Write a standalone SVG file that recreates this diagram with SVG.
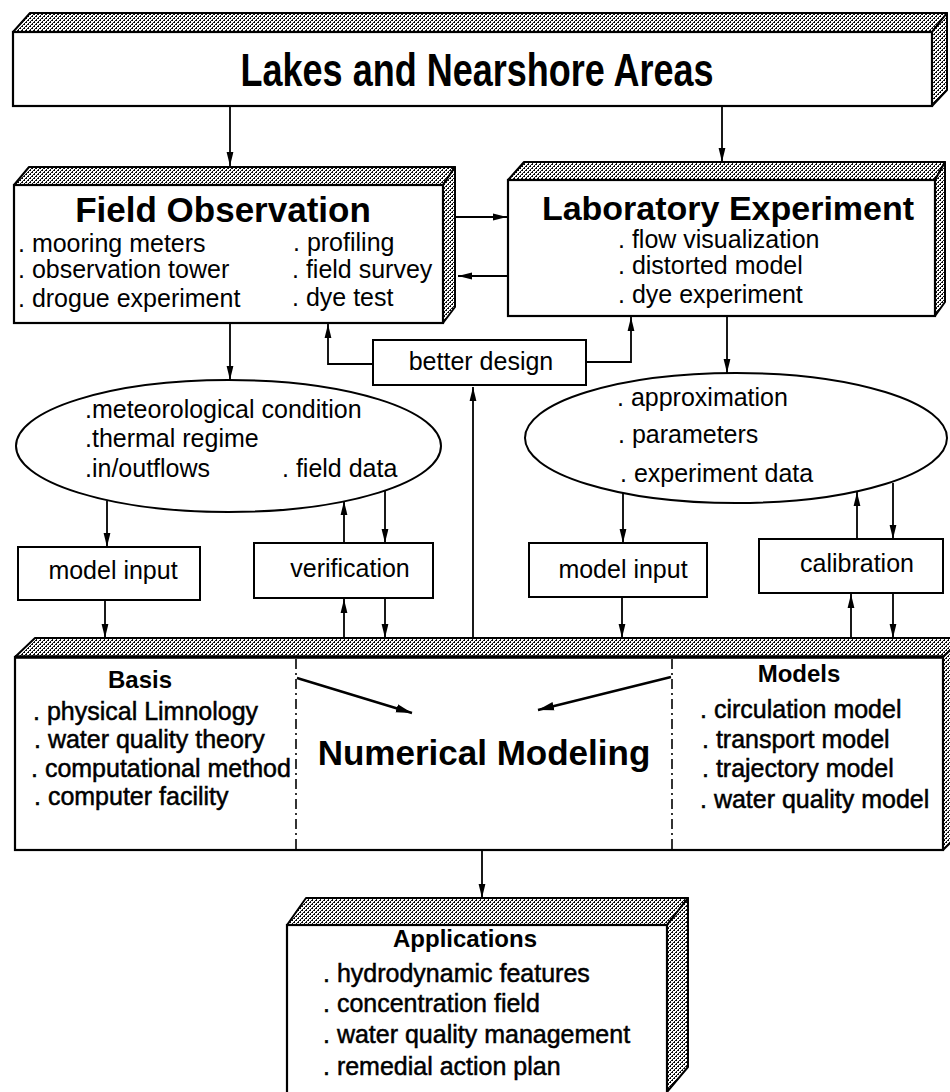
<svg xmlns="http://www.w3.org/2000/svg" width="950" height="1092" viewBox="0 0 950 1092">
<defs>
<pattern id="hatch" width="4" height="4" patternUnits="userSpaceOnUse">
<rect width="4" height="4" fill="#fff"/>
<path d="M0,4 L4,0 M-1,1 L1,-1 M3,5 L5,3" stroke="#000" stroke-width="0.9"/>
<rect x="0" y="0" width="1" height="1" fill="#000"/>
<rect x="2" y="2" width="1" height="1" fill="#000"/>
</pattern>
<marker id="ah" markerWidth="15" markerHeight="8" refX="14" refY="4" orient="auto" markerUnits="userSpaceOnUse">
<path d="M0,0.6 L14,4 L0,7.4 z" fill="#000"/>
</marker>
<marker id="ahb" markerWidth="17" markerHeight="10" refX="16" refY="5" orient="auto" markerUnits="userSpaceOnUse">
<path d="M0,0.8 L16,5 L0,9.2 z" fill="#000"/>
</marker>
</defs>
<style>
text{font-family:"Liberation Sans",Arial,sans-serif;fill:#000}
.face{fill:url(#hatch);stroke:#000;stroke-width:2;stroke-linejoin:round}
.front{fill:#fff;stroke:#000;stroke-width:2.2}
.box{fill:#fff;stroke:#000;stroke-width:2}
.ell{fill:#fff;stroke:#000;stroke-width:2}
.title{font-weight:bold;text-anchor:middle}
.item{font-size:25px}
.heavy{font-size:25px;stroke:#000;stroke-width:0.5}
.head{font-weight:bold;font-size:24px;text-anchor:middle}
.mid{text-anchor:middle;font-size:25px}
.ln{fill:none;stroke:#000;stroke-width:1.8;marker-end:url(#ah)}
.dd{stroke:#000;stroke-width:1.6;stroke-dasharray:10 4 2 4;fill:none}
</style>

<g id="lakes">
<polygon class="face" points="13,32 30,13 947,13 932,32"/>
<polygon class="face" points="932,32 947,13 947,90 932,106"/>
<rect class="front" x="13" y="32" width="919" height="74"/>
<text class="title" font-size="36" transform="translate(477,86) scale(1,1.3)">Lakes and Nearshore Areas</text>
</g>

<g id="field-observation">
<polygon class="face" points="14,185 29,167 455,167 443,185"/>
<polygon class="face" points="443,185 455,167 455,307 443,323"/>
<rect class="front" x="14" y="185" width="429" height="138"/>
<text class="title" x="223" y="222" font-size="35">Field Observation</text>
<text class="item" x="18" y="252" font-size="24.5">. mooring meters</text>
<text class="item" x="18" y="278" font-size="24.5">. observation tower</text>
<text class="item" x="18" y="307" font-size="24.5">. drogue experiment</text>
<text class="item" x="293" y="251" font-size="24.5">. profiling</text>
<text class="item" x="292" y="278" font-size="24.5">. field survey</text>
<text class="item" x="292" y="306" font-size="24.5">. dye test</text>
</g>

<g id="laboratory-experiment">
<polygon class="face" points="508,180 524,162 945,162 935,180"/>
<polygon class="face" points="935,180 945,162 945,302 935,316"/>
<rect class="front" x="508" y="180" width="427" height="136"/>
<text class="title" x="728" y="220" font-size="34">Laboratory Experiment</text>
<text class="item" x="618" y="248">. flow visualization</text>
<text class="item" x="618" y="274">. distorted model</text>
<text class="item" x="618" y="303">. dye experiment</text>
</g>

<g id="better-design">
<rect class="box" x="373" y="340" width="213" height="45"/>
<text class="mid" x="481" y="370">better design</text>
</g>

<g id="field-data">
<ellipse class="ell" cx="228.5" cy="446" rx="212.5" ry="66"/>
<text class="item" x="85" y="418">.meteorological condition</text>
<text class="item" x="85" y="447">.thermal regime</text>
<text class="item" x="85" y="477">.in/outflows</text>
<text class="item" x="282" y="477">. field data</text>
</g>

<g id="experiment-data">
<ellipse class="ell" cx="736" cy="438" rx="211" ry="65"/>
<text class="item" x="617" y="406">. approximation</text>
<text class="item" x="618" y="443">. parameters</text>
<text class="item" x="620" y="482">. experiment data</text>
</g>

<g id="model-input-left">
<rect class="box" x="18" y="547" width="182" height="53"/>
<text class="mid" x="113" y="579">model input</text>
</g>

<g id="verification">
<rect class="box" x="254" y="543" width="179" height="55"/>
<text class="mid" x="350" y="577">verification</text>
</g>

<g id="model-input-right">
<rect class="box" x="529" y="543" width="178" height="54"/>
<text class="mid" x="623" y="578">model input</text>
</g>

<g id="calibration">
<rect class="box" x="759" y="539" width="184" height="54"/>
<text class="mid" x="857" y="572">calibration</text>
</g>

<g id="numerical-modeling">
<polygon class="face" points="15,657 35,638 963,638 943,657"/>
<polygon class="face" points="943,657 963,638 963,830 943,850"/>
<rect class="front" x="15" y="657" width="928" height="193"/>
<line x1="15" y1="657" x2="943" y2="657" stroke="#000" stroke-width="3.5"/>
<line class="dd" x1="296" y1="659" x2="296" y2="849"/>
<line class="dd" x1="672" y1="659" x2="672" y2="849"/>
<text class="head" x="140" y="688">Basis</text>
<text class="heavy" x="33" y="720">. physical Limnology</text>
<text class="heavy" x="34" y="748">. water quality theory</text>
<text class="heavy" x="31" y="777">. computational method</text>
<text class="heavy" x="34" y="805">. computer facility</text>
<text class="title" x="484" y="765" font-size="35">Numerical Modeling</text>
<text class="head" x="799" y="682" font-size="25">Models</text>
<text class="heavy" x="700" y="718">. circulation model</text>
<text class="heavy" x="702" y="748">. transport model</text>
<text class="heavy" x="702" y="777">. trajectory model</text>
<text class="heavy" x="700" y="808">. water quality model</text>
</g>

<g id="applications">
<polygon class="face" points="287,925 306,898 688,898 667,925"/>
<polygon class="face" points="667,925 688,898 688,1067 667,1092"/>
<rect class="front" x="287" y="925" width="380" height="185"/>
<text class="head" x="465" y="947">Applications</text>
<text class="heavy" x="323" y="982">. hydrodynamic features</text>
<text class="heavy" x="323" y="1012">. concentration field</text>
<text class="heavy" x="323" y="1043">. water quality management</text>
<text class="heavy" x="323" y="1075">. remedial action plan</text>
</g>

<g id="connectors">
<path class="ln" d="M230,106 V166"/>
<path class="ln" d="M722,106 V162"/>
<path class="ln" d="M455,217 H507"/>
<path class="ln" d="M508,276 H458"/>
<path class="ln" d="M230,323 V380"/>
<path class="ln" d="M727,316 V373"/>
<path class="ln" d="M373,364 H328 V324"/>
<path class="ln" d="M586,362 H631 V317"/>
<path class="ln" d="M473,638 V387"/>
<path class="ln" d="M107,501 V547"/>
<path class="ln" d="M105,600 V638"/>
<path class="ln" d="M344,543 V501"/>
<path class="ln" d="M385,490 V543"/>
<path class="ln" d="M344,638 V599"/>
<path class="ln" d="M385,598 V638"/>
<path class="ln" d="M623,493 V543"/>
<path class="ln" d="M622,597 V638"/>
<path class="ln" d="M857,539 V492"/>
<path class="ln" d="M893,483 V539"/>
<path class="ln" d="M851,638 V594"/>
<path class="ln" d="M893,593 V638"/>
<path class="ln" d="M482,850 V898"/>
<path d="M297,678 L412,713" fill="none" stroke="#000" stroke-width="2.4" marker-end="url(#ahb)"/>
<path d="M671,677 L538,710" fill="none" stroke="#000" stroke-width="2.4" marker-end="url(#ahb)"/>
</g>
</svg>
